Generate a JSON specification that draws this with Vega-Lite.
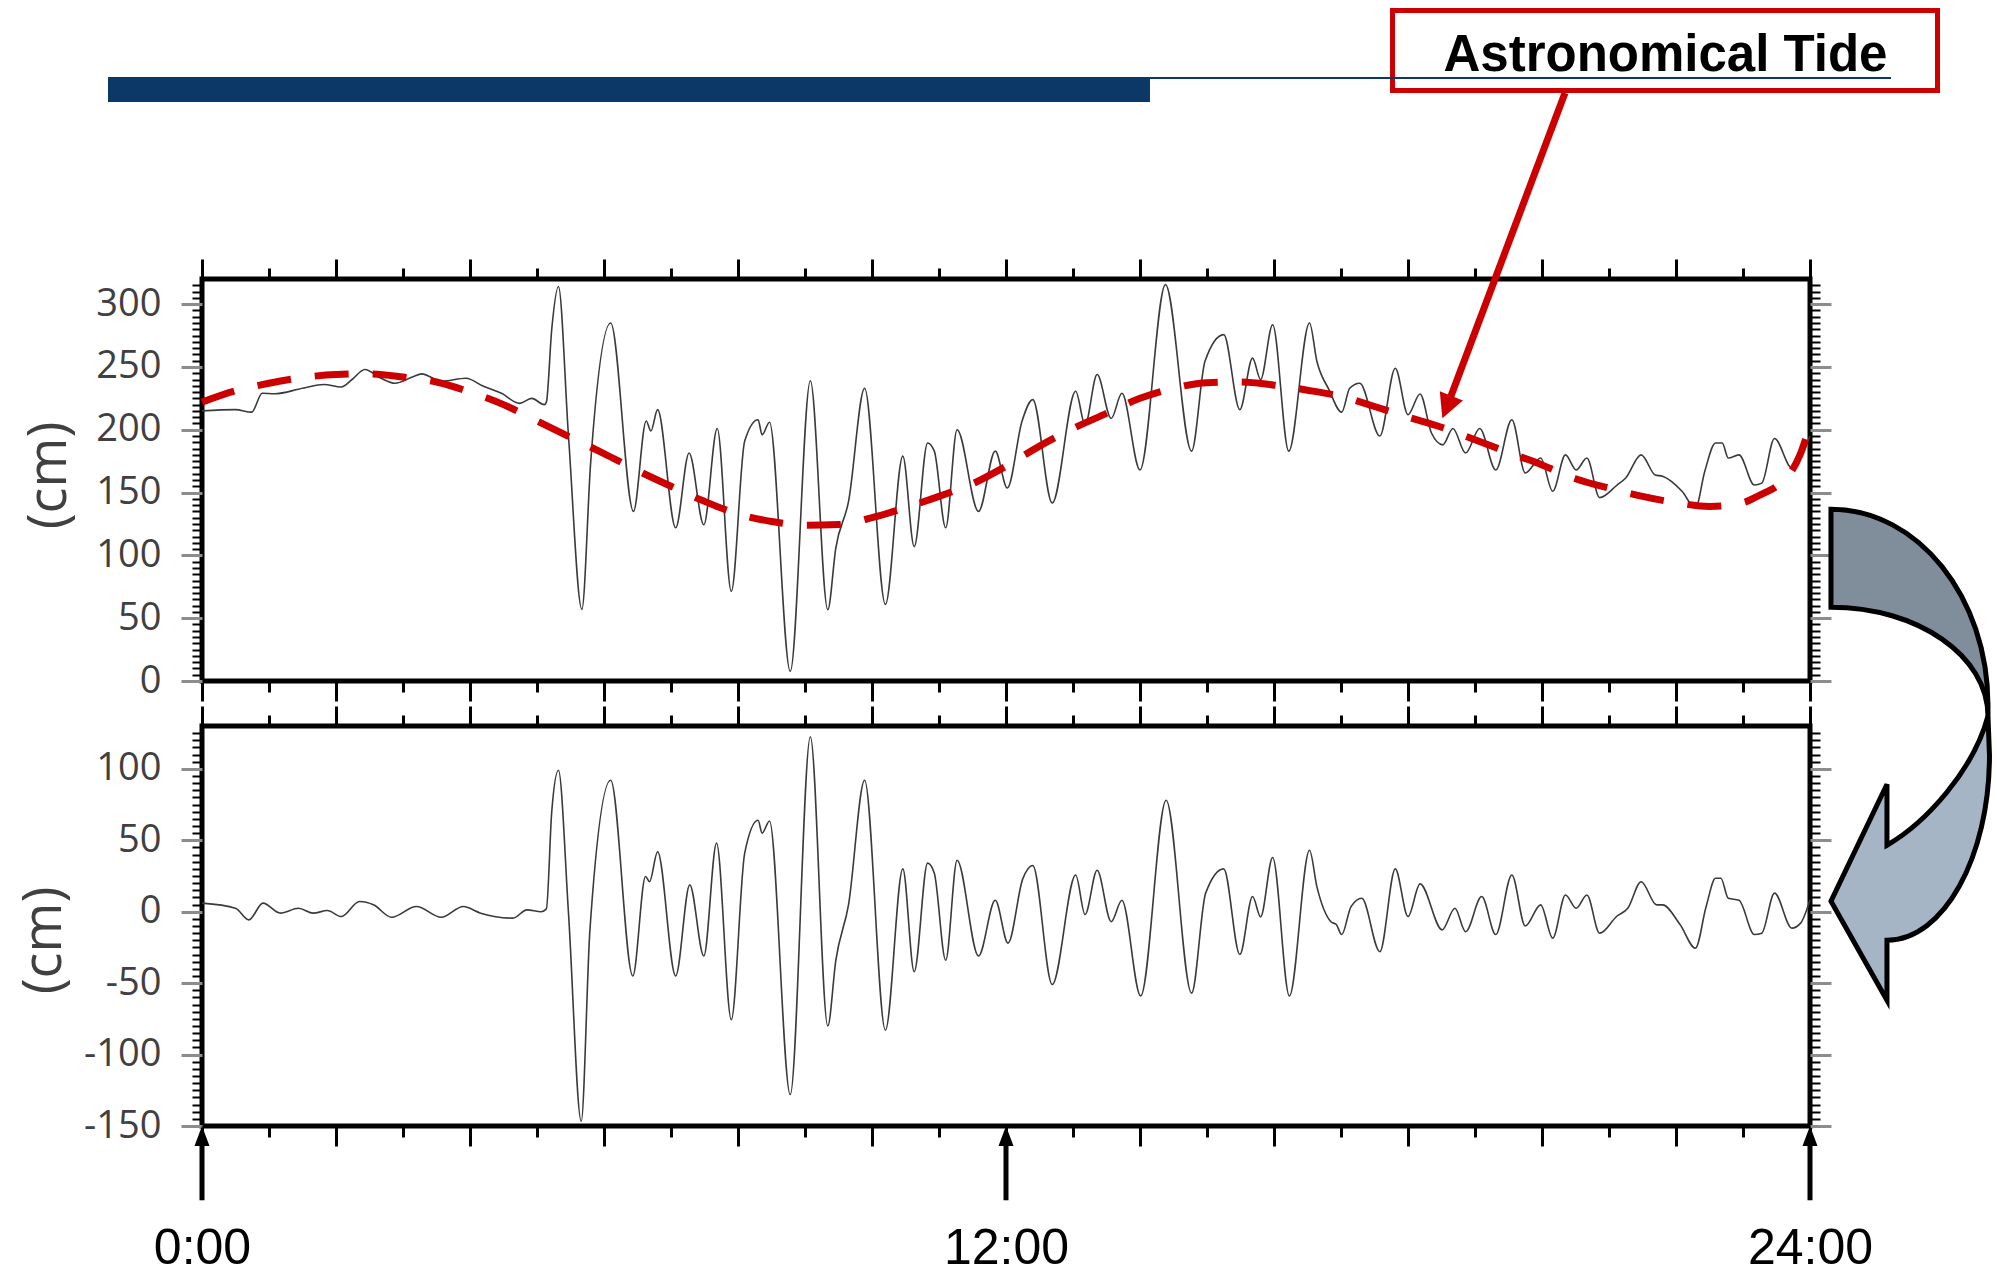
{
  "$schema": "https://vega.github.io/schema/vega-lite/v6.json",
  "background": "white",
  "padding": {"left": 14, "top": 5, "right": 0, "bottom": 0},
  "bounds": "flush",
  "spacing": 45,
  "config": {
    "view": {"stroke": "#000000", "strokeWidth": 5},
    "axis": {"grid": false, "domain": false, "labels": false, "tickColor": "#000000", "tickWidth": 3}
  },
  "datasets": {
    "observed": [
      {"hour": 0.0, "cm": 215}, {"hour": 0.5, "cm": 216}, {"hour": 0.74, "cm": 214}, {"hour": 0.9, "cm": 229},
      {"hour": 1.08, "cm": 228.6}, {"hour": 1.5, "cm": 233}, {"hour": 1.82, "cm": 236}, {"hour": 2.08, "cm": 234},
      {"hour": 2.24, "cm": 240}, {"hour": 2.43, "cm": 248}, {"hour": 2.67, "cm": 241}, {"hour": 2.88, "cm": 237},
      {"hour": 3.14, "cm": 242}, {"hour": 3.28, "cm": 244.5}, {"hour": 3.57, "cm": 238.6}, {"hour": 3.94, "cm": 241},
      {"hour": 4.2, "cm": 234.6}, {"hour": 4.47, "cm": 229}, {"hour": 4.74, "cm": 221}, {"hour": 4.92, "cm": 225},
      {"hour": 5.11, "cm": 220}, {"hour": 5.14, "cm": 222}, {"hour": 5.22, "cm": 280}, {"hour": 5.32, "cm": 314},
      {"hour": 5.47, "cm": 195}, {"hour": 5.67, "cm": 57}, {"hour": 5.8, "cm": 173}, {"hour": 6.1, "cm": 285},
      {"hour": 6.44, "cm": 135}, {"hour": 6.63, "cm": 207}, {"hour": 6.7, "cm": 199}, {"hour": 6.8, "cm": 216},
      {"hour": 7.07, "cm": 122}, {"hour": 7.27, "cm": 181.5}, {"hour": 7.49, "cm": 124.4}, {"hour": 7.69, "cm": 201},
      {"hour": 7.9, "cm": 71.4}, {"hour": 8.1, "cm": 191}, {"hour": 8.3, "cm": 208}, {"hour": 8.36, "cm": 196},
      {"hour": 8.47, "cm": 206}, {"hour": 8.78, "cm": 7.7}, {"hour": 9.08, "cm": 239}, {"hour": 9.34, "cm": 56.8},
      {"hour": 9.46, "cm": 106}, {"hour": 9.65, "cm": 143}, {"hour": 9.89, "cm": 233}, {"hour": 10.2, "cm": 61},
      {"hour": 10.46, "cm": 179}, {"hour": 10.63, "cm": 107}, {"hour": 10.83, "cm": 189.5}, {"hour": 10.93, "cm": 183},
      {"hour": 11.1, "cm": 122}, {"hour": 11.27, "cm": 200}, {"hour": 11.59, "cm": 135}, {"hour": 11.84, "cm": 183},
      {"hour": 12.02, "cm": 153.6}, {"hour": 12.24, "cm": 207}, {"hour": 12.4, "cm": 224}, {"hour": 12.69, "cm": 141.7},
      {"hour": 13.04, "cm": 230.6}, {"hour": 13.18, "cm": 204}, {"hour": 13.36, "cm": 244}, {"hour": 13.57, "cm": 209},
      {"hour": 13.73, "cm": 229}, {"hour": 14.0, "cm": 168}, {"hour": 14.38, "cm": 315.5}, {"hour": 14.77, "cm": 183},
      {"hour": 14.97, "cm": 254.5}, {"hour": 15.25, "cm": 275.7}, {"hour": 15.49, "cm": 216}, {"hour": 15.68, "cm": 257},
      {"hour": 15.8, "cm": 240}, {"hour": 15.98, "cm": 283.6}, {"hour": 16.22, "cm": 183}, {"hour": 16.53, "cm": 285},
      {"hour": 16.64, "cm": 254.5}, {"hour": 16.82, "cm": 232}, {"hour": 17.01, "cm": 214}, {"hour": 17.13, "cm": 233},
      {"hour": 17.28, "cm": 237}, {"hour": 17.58, "cm": 195}, {"hour": 17.81, "cm": 249}, {"hour": 18.0, "cm": 212},
      {"hour": 18.18, "cm": 228.5}, {"hour": 18.35, "cm": 197.4}, {"hour": 18.52, "cm": 188}, {"hour": 18.67, "cm": 201},
      {"hour": 18.86, "cm": 181.5}, {"hour": 19.07, "cm": 201}, {"hour": 19.31, "cm": 168}, {"hour": 19.55, "cm": 208},
      {"hour": 19.75, "cm": 165.6}, {"hour": 19.98, "cm": 177.5}, {"hour": 20.16, "cm": 151}, {"hour": 20.35, "cm": 180},
      {"hour": 20.51, "cm": 168}, {"hour": 20.67, "cm": 177.5}, {"hour": 20.86, "cm": 146}, {"hour": 21.12, "cm": 156},
      {"hour": 21.25, "cm": 161.6}, {"hour": 21.48, "cm": 180}, {"hour": 21.69, "cm": 164}, {"hour": 21.8, "cm": 163},
      {"hour": 22.09, "cm": 151}, {"hour": 22.29, "cm": 137.7}, {"hour": 22.43, "cm": 167}, {"hour": 22.59, "cm": 189.5},
      {"hour": 22.69, "cm": 189.5}, {"hour": 22.78, "cm": 177.5}, {"hour": 22.94, "cm": 180}, {"hour": 23.17, "cm": 156},
      {"hour": 23.28, "cm": 157.5}, {"hour": 23.47, "cm": 193}, {"hour": 23.73, "cm": 169.6}, {"hour": 24.0, "cm": 195}
    ],
    "tide": [
      {"hour": 0, "cm": 222}, {"hour": 0.5, "cm": 231}, {"hour": 1, "cm": 237}, {"hour": 1.5, "cm": 241.5},
      {"hour": 2, "cm": 244}, {"hour": 2.5, "cm": 244.5}, {"hour": 3, "cm": 242}, {"hour": 3.5, "cm": 238},
      {"hour": 4, "cm": 230}, {"hour": 4.5, "cm": 220}, {"hour": 5, "cm": 207}, {"hour": 5.5, "cm": 194},
      {"hour": 6, "cm": 181}, {"hour": 6.5, "cm": 167.5}, {"hour": 7, "cm": 155}, {"hour": 7.5, "cm": 143},
      {"hour": 8, "cm": 133}, {"hour": 8.5, "cm": 127}, {"hour": 9, "cm": 124}, {"hour": 9.5, "cm": 124.5},
      {"hour": 10, "cm": 130}, {"hour": 10.5, "cm": 138}, {"hour": 11, "cm": 147}, {"hour": 11.5, "cm": 157},
      {"hour": 12, "cm": 171}, {"hour": 12.5, "cm": 187}, {"hour": 13, "cm": 201}, {"hour": 13.5, "cm": 213},
      {"hour": 14, "cm": 225}, {"hour": 14.5, "cm": 233}, {"hour": 15, "cm": 237.5}, {"hour": 15.5, "cm": 238},
      {"hour": 16, "cm": 235.5}, {"hour": 16.5, "cm": 231.5}, {"hour": 17, "cm": 226.5}, {"hour": 17.5, "cm": 218.5},
      {"hour": 18, "cm": 210}, {"hour": 18.5, "cm": 202}, {"hour": 19, "cm": 192}, {"hour": 19.5, "cm": 182},
      {"hour": 20, "cm": 172}, {"hour": 20.5, "cm": 161}, {"hour": 21, "cm": 153.5}, {"hour": 21.5, "cm": 147},
      {"hour": 22, "cm": 142}, {"hour": 22.5, "cm": 139}, {"hour": 23, "cm": 142}, {"hour": 23.25, "cm": 148},
      {"hour": 23.5, "cm": 155}, {"hour": 23.7, "cm": 165}, {"hour": 23.85, "cm": 180}, {"hour": 24, "cm": 204}
    ],
    "residual": [
      {"hour": 0.0, "cm": 6}, {"hour": 0.5, "cm": 2.5}, {"hour": 0.7, "cm": -5.7}, {"hour": 0.91, "cm": 6},
      {"hour": 1.17, "cm": -1}, {"hour": 1.44, "cm": 2.4}, {"hour": 1.66, "cm": -1}, {"hour": 1.87, "cm": 0.8},
      {"hour": 2.08, "cm": -3.4}, {"hour": 2.35, "cm": 7.1}, {"hour": 2.56, "cm": 4.8}, {"hour": 2.83, "cm": -3.9},
      {"hour": 3.2, "cm": 3.6}, {"hour": 3.57, "cm": -3.9}, {"hour": 3.9, "cm": 3.6}, {"hour": 4.16, "cm": -1},
      {"hour": 4.64, "cm": -4.5}, {"hour": 4.85, "cm": 1.3}, {"hour": 5.06, "cm": 0}, {"hour": 5.14, "cm": 2},
      {"hour": 5.22, "cm": 70}, {"hour": 5.32, "cm": 99}, {"hour": 5.47, "cm": -1}, {"hour": 5.66, "cm": -146.7},
      {"hour": 5.79, "cm": -12.7}, {"hour": 6.1, "cm": 92}, {"hour": 6.43, "cm": -45}, {"hour": 6.62, "cm": 24.6},
      {"hour": 6.68, "cm": 21}, {"hour": 6.8, "cm": 42}, {"hour": 7.07, "cm": -45}, {"hour": 7.28, "cm": 18.8},
      {"hour": 7.49, "cm": -31}, {"hour": 7.68, "cm": 48}, {"hour": 7.9, "cm": -75.6}, {"hour": 8.1, "cm": 41},
      {"hour": 8.3, "cm": 64}, {"hour": 8.36, "cm": 55}, {"hour": 8.47, "cm": 63.5}, {"hour": 8.78, "cm": -128},
      {"hour": 9.08, "cm": 122.5}, {"hour": 9.34, "cm": -80}, {"hour": 9.46, "cm": -34}, {"hour": 9.65, "cm": 5},
      {"hour": 9.89, "cm": 92}, {"hour": 10.2, "cm": -83}, {"hour": 10.46, "cm": 30}, {"hour": 10.63, "cm": -42},
      {"hour": 10.83, "cm": 34}, {"hour": 10.93, "cm": 27}, {"hour": 11.1, "cm": -34}, {"hour": 11.27, "cm": 36},
      {"hour": 11.59, "cm": -31}, {"hour": 11.84, "cm": 8}, {"hour": 12.03, "cm": -22}, {"hour": 12.25, "cm": 23},
      {"hour": 12.4, "cm": 32.4}, {"hour": 12.69, "cm": -51}, {"hour": 13.04, "cm": 25.7}, {"hour": 13.18, "cm": -2},
      {"hour": 13.36, "cm": 29}, {"hour": 13.57, "cm": -7}, {"hour": 13.73, "cm": 8}, {"hour": 14.01, "cm": -59},
      {"hour": 14.39, "cm": 78}, {"hour": 14.77, "cm": -57}, {"hour": 14.98, "cm": 13}, {"hour": 15.25, "cm": 30},
      {"hour": 15.49, "cm": -30}, {"hour": 15.68, "cm": 10.6}, {"hour": 15.8, "cm": -3.6}, {"hour": 15.98, "cm": 38},
      {"hour": 16.23, "cm": -59}, {"hour": 16.53, "cm": 43}, {"hour": 16.64, "cm": 17.6}, {"hour": 16.85, "cm": -7},
      {"hour": 16.93, "cm": -9}, {"hour": 17.01, "cm": -16}, {"hour": 17.15, "cm": 3.6}, {"hour": 17.31, "cm": 9.4},
      {"hour": 17.58, "cm": -28}, {"hour": 17.81, "cm": 30}, {"hour": 18.0, "cm": -3.4}, {"hour": 18.18, "cm": 19.5},
      {"hour": 18.51, "cm": -12.7}, {"hour": 18.7, "cm": 2.4}, {"hour": 18.86, "cm": -14}, {"hour": 19.1, "cm": 10.6},
      {"hour": 19.31, "cm": -16}, {"hour": 19.55, "cm": 25.7}, {"hour": 19.75, "cm": -10}, {"hour": 19.98, "cm": 4.8},
      {"hour": 20.16, "cm": -18.5}, {"hour": 20.35, "cm": 11.7}, {"hour": 20.51, "cm": 2.4}, {"hour": 20.67, "cm": 11.7},
      {"hour": 20.86, "cm": -15}, {"hour": 21.12, "cm": -3}, {"hour": 21.28, "cm": 2.4}, {"hour": 21.48, "cm": 21},
      {"hour": 21.71, "cm": 4.8}, {"hour": 21.8, "cm": 4.8}, {"hour": 22.06, "cm": -9}, {"hour": 22.29, "cm": -25.5},
      {"hour": 22.45, "cm": 3.6}, {"hour": 22.59, "cm": 23.4}, {"hour": 22.67, "cm": 23.4}, {"hour": 22.78, "cm": 9.4},
      {"hour": 22.94, "cm": 8}, {"hour": 23.17, "cm": -16}, {"hour": 23.28, "cm": -15}, {"hour": 23.47, "cm": 13},
      {"hour": 23.73, "cm": -11.5}, {"hour": 23.86, "cm": -8}, {"hour": 24.0, "cm": 8.3}
    ],
    "markers": [{"hour": 0}, {"hour": 12}, {"hour": 24}]
  },
  "vconcat": [
    {
      "width": 1608,
      "height": 402,
      "resolve": {"axis": {"x": "independent", "y": "independent"}},
      "layer": [
        {
          "data": {"name": "observed"},
          "mark": {"type": "line", "color": "#3a3a3a", "strokeWidth": 1.6, "interpolate": "monotone"},
          "encoding": {
            "x": {"field": "hour", "type": "quantitative", "scale": {"domain": [0, 24], "nice": false, "zero": false},
              "axis": {"orient": "bottom", "values": [0,2,4,6,8,10,12,14,16,18,20,22,24], "tickSize": 20, "title": null}},
            "y": {"field": "cm", "type": "quantitative", "scale": {"domain": [0, 320], "nice": false, "zero": false},
              "axis": {"orient": "left", "values": [0,50,100,150,200,250,300], "tickSize": 21, "tickColor": "#8c8c8c",
                "labels": true, "labelExpr": "'' + datum.value", "labelFont": "Open Sans", "labelFontSize": 38, "labelColor": "#404040", "labelPadding": 20,
                "labelOverlap": false, "labelFlush": false, "labelBound": false,
                "title": "(cm)", "titleFont": "Open Sans", "titleFontSize": 54, "titleFontWeight": "normal", "titleColor": "#404040",
                "titleAngle": 270, "titleBaseline": "bottom", "titleX": -126, "titleY": 196}}
          }
        },
        {
          "data": {"name": "tide"},
          "mark": {"type": "line", "color": "#cc0000", "strokeWidth": 7, "strokeDash": [34, 24], "strokeCap": "butt", "interpolate": "monotone"},
          "encoding": {
            "x": {"field": "hour", "type": "quantitative",
              "axis": {"orient": "top", "values": [0,2,4,6,8,10,12,14,16,18,20,22,24], "tickSize": 20, "title": null}},
            "y": {"field": "cm", "type": "quantitative",
              "axis": {"orient": "right", "values": [0,50,100,150,200,250,300], "tickSize": 21, "tickColor": "#8c8c8c", "title": null}}
          }
        },
        {
          "data": {"values": [{"item": "title bar"}]},
          "mark": {"type": "rect", "color": "#0b3866"},
          "encoding": {
            "x": {"datum": -1.403, "type": "quantitative",
              "axis": {"orient": "bottom", "values": [1,3,5,7,9,11,13,15,17,19,21,23], "tickSize": 11, "title": null}},
            "x2": {"datum": 14.149},
            "y": {"datum": 480.8, "type": "quantitative",
              "axis": {"orient": "left", "values": [5,10,15,20,25,30,35,40,45,55,60,65,70,75,80,85,90,95,105,110,115,120,125,130,135,140,145,155,160,165,170,175,180,185,190,195,205,210,215,220,225,230,235,240,245,255,260,265,270,275,280,285,290,295,305,310,315], "tickSize": 10, "tickWidth": 2, "title": null}},
            "y2": {"datum": 460.9}
          }
        },
        {
          "data": {"values": [{"item": "label box"}]},
          "mark": {"type": "rect", "fill": "#ffffff", "stroke": "#cc0000", "strokeWidth": 5},
          "encoding": {
            "x": {"datum": 17.769, "type": "quantitative", "axis": null},
            "x2": {"datum": 25.903},
            "y": {"datum": 533.7, "type": "quantitative", "axis": null},
            "y2": {"datum": 470.0}
          }
        },
        {
          "data": {"values": [{"item": "title rule"}]},
          "mark": {"type": "rule", "color": "#0b3866", "strokeWidth": 2},
          "encoding": {
            "x": {"datum": 14.149, "type": "quantitative",
              "axis": {"orient": "top", "values": [1,3,5,7,9,11,13,15,17,19,21,23], "tickSize": 11, "title": null}},
            "x2": {"datum": 25.209},
            "y": {"datum": 480.0, "type": "quantitative",
              "axis": {"orient": "right", "values": [5,10,15,20,25,30,35,40,45,55,60,65,70,75,80,85,90,95,105,110,115,120,125,130,135,140,145,155,160,165,170,175,180,185,190,195,205,210,215,220,225,230,235,240,245,255,260,265,270,275,280,285,290,295,305,310,315], "tickSize": 10, "tickWidth": 2, "title": null}}
          }
        },
        {
          "data": {"values": [{"label": "Astronomical Tide"}]},
          "mark": {"type": "text", "font": "Liberation Sans", "fontWeight": "bold", "fontSize": 51, "align": "center", "baseline": "alphabetic", "color": "#000000"},
          "encoding": {
            "x": {"datum": 21.843, "type": "quantitative", "axis": null},
            "y": {"datum": 485.6, "type": "quantitative", "axis": null},
            "text": {"field": "label"}
          }
        },
        {
          "data": {"values": [{"item": "tide pointer"}]},
          "mark": {"type": "rule", "color": "#cc0000", "strokeWidth": 7},
          "encoding": {
            "x": {"datum": 20.343, "type": "quantitative", "axis": null},
            "y": {"datum": 468.1, "type": "quantitative", "axis": null},
            "x2": {"datum": 18.58},
            "y2": {"datum": 218.1}
          }
        },
        {
          "data": {"values": [{"item": "tide pointer head"}]},
          "mark": {"type": "point", "shape": "M0,-1L-1.04,1L1.04,1Z", "size": 576, "filled": true, "color": "#cc0000", "opacity": 1, "angle": 202},
          "encoding": {
            "x": {"datum": 18.58, "type": "quantitative", "axis": null},
            "y": {"datum": 218.1, "type": "quantitative", "axis": null}
          }
        }
      ]
    },
    {
      "width": 1608,
      "height": 400,
      "resolve": {"axis": {"x": "independent", "y": "independent"}},
      "layer": [
        {
          "data": {"name": "residual"},
          "mark": {"type": "line", "color": "#3a3a3a", "strokeWidth": 1.6, "interpolate": "monotone"},
          "encoding": {
            "x": {"field": "hour", "type": "quantitative", "scale": {"domain": [0, 24], "nice": false, "zero": false},
              "axis": {"orient": "bottom", "values": [0,2,4,6,8,10,12,14,16,18,20,22,24], "tickSize": 20,
                "labels": true, "labelExpr": "datum.value % 12 === 0 ? datum.value + ':00' : ''",
                "labelFont": "Liberation Sans", "labelFontSize": 50, "labelColor": "#000000", "labelPadding": 77,
                "labelFlush": false, "labelOverlap": false, "labelBound": false, "title": null}},
            "y": {"field": "cm", "type": "quantitative", "scale": {"domain": [-150, 130], "nice": false, "zero": false},
              "axis": {"orient": "left", "values": [-150,-100,-50,0,50,100], "tickSize": 21, "tickColor": "#8c8c8c",
                "labels": true, "labelExpr": "'' + datum.value", "labelFont": "Open Sans", "labelFontSize": 38, "labelColor": "#404040", "labelPadding": 20,
                "labelOverlap": false, "labelFlush": false, "labelBound": false,
                "title": "(cm)", "titleFont": "Open Sans", "titleFontSize": 54, "titleFontWeight": "normal", "titleColor": "#404040",
                "titleAngle": 270, "titleBaseline": "bottom", "titleX": -131, "titleY": 214}}
          }
        },
        {
          "data": {"name": "markers"},
          "mark": {"type": "rule", "color": "#000000", "strokeWidth": 5},
          "encoding": {
            "x": {"field": "hour", "type": "quantitative",
              "axis": {"orient": "top", "values": [0,2,4,6,8,10,12,14,16,18,20,22,24], "tickSize": 20, "title": null}},
            "y": {"datum": -157, "type": "quantitative",
              "axis": {"orient": "right", "values": [-150,-100,-50,0,50,100], "tickSize": 21, "tickColor": "#8c8c8c", "title": null}},
            "y2": {"datum": -202}
          }
        },
        {
          "data": {"name": "markers"},
          "mark": {"type": "point", "shape": "M0,-1L-0.75,1L0.75,1Z", "size": 400, "filled": true, "color": "#000000", "opacity": 1},
          "encoding": {
            "x": {"field": "hour", "type": "quantitative",
              "axis": {"orient": "bottom", "values": [1,3,5,7,9,11,13,15,17,19,21,23], "tickSize": 11, "title": null}},
            "y": {"datum": -157, "type": "quantitative",
              "axis": {"orient": "left", "values": [-145,-140,-135,-130,-125,-120,-115,-110,-105,-95,-90,-85,-80,-75,-70,-65,-60,-55,-45,-40,-35,-30,-25,-20,-15,-10,-5,5,10,15,20,25,30,35,40,45,55,60,65,70,75,80,85,90,95,105,110,115,120,125], "tickSize": 10, "tickWidth": 2, "title": null}}
          }
        },
        {
          "data": {"values": [{"item": "curved arrow back"}]},
          "mark": {"type": "point", "shape": "M-0.32,-0.984C0.027,-0.984,0.308,-0.633,0.308,-0.2L0.308,-0.156C0.308,-0.397,0.027,-0.592,-0.32,-0.592Z",
            "size": 250000, "filled": true, "fill": "#808d9a", "stroke": "#000000", "strokeWidth": 5, "opacity": 1, "strokeJoin": "miter"},
          "encoding": {
            "x": {"datum": 25.507, "type": "quantitative",
              "axis": {"orient": "top", "values": [1,3,5,7,9,11,13,15,17,19,21,23], "tickSize": 11, "title": null}},
            "y": {"datum": 109.55, "type": "quantitative",
              "axis": {"orient": "right", "values": [-145,-140,-135,-130,-125,-120,-115,-110,-105,-95,-90,-85,-80,-75,-70,-65,-60,-55,-45,-40,-35,-30,-25,-20,-15,-10,-5,5,10,15,20,25,30,35,40,45,55,60,65,70,75,80,85,90,95,105,110,115,120,125], "tickSize": 10, "tickWidth": 2, "title": null}}
          }
        },
        {
          "data": {"values": [{"item": "curved arrow front"}]},
          "mark": {"type": "point", "shape": "M0.308,-0.156L0.314,0C0.314,0.409,0.13,0.74,-0.096,0.74L-0.096,0.98L-0.32,0.584L-0.096,0.116L-0.096,0.36C0.06,0.27,0.25,0.06,0.308,-0.156Z",
            "size": 250000, "filled": true, "fill": "#a6b5c5", "stroke": "#000000", "strokeWidth": 5, "opacity": 1, "strokeJoin": "miter"},
          "encoding": {
            "x": {"datum": 25.507, "type": "quantitative", "axis": null},
            "y": {"datum": 109.55, "type": "quantitative", "axis": null}
          }
        }
      ]
    }
  ]
}
